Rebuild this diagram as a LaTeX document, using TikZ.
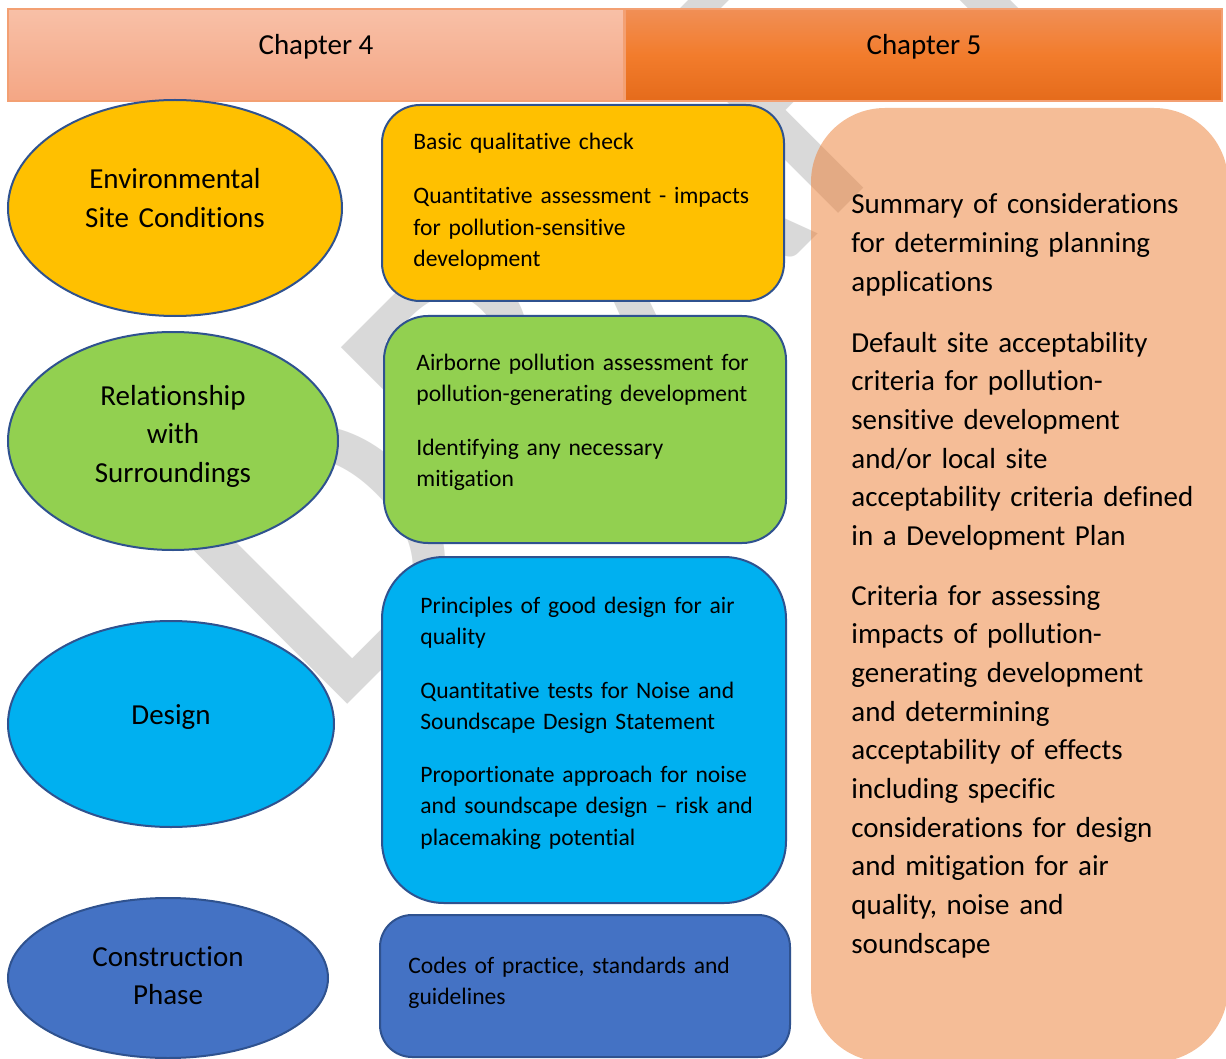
\documentclass[tikz,border=0pt]{standalone}
\usepackage{fontspec}
\setmainfont{Carlito}[Ligatures={TeX,NoCommon}]
\usetikzlibrary{shapes.geometric}
\definecolor{outl}{RGB}{47,82,143}
\definecolor{amber}{RGB}{255,192,0}
\definecolor{leaf}{RGB}{146,208,80}
\definecolor{sky}{RGB}{0,176,240}
\definecolor{steel}{RGB}{68,114,196}
\definecolor{accent}{RGB}{237,125,49}
\definecolor{wmark}{RGB}{217,217,217}
\definecolor{chfourtop}{RGB}{248,192,167}
\definecolor{chfourbot}{RGB}{244,166,132}
\definecolor{chfivetop}{RGB}{241,143,86}
\definecolor{chfivemid}{RGB}{242,124,44}
\definecolor{chfivebot}{RGB}{229,107,27}
\definecolor{chedge}{RGB}{243,160,115}
\tikzset{
  topic/.style={ellipse, draw=outl, line width=1pt, inner sep=0pt},
  panel/.style={rectangle, draw=outl, line width=1pt, inner sep=0pt},
  head/.style={rectangle, draw=chedge, line width=0.6pt, inner sep=0pt, minimum height=46pt},
  bodytxt/.style={font=\fontsize{11.8pt}{15.75pt}\selectfont, anchor=base west, inner sep=0pt, text width=200pt, align=left},
  bigtxt/.style={font=\fontsize{14.5pt}{19.35pt}\selectfont, inner sep=0pt},
  sidetxt/.style={bigtxt, anchor=base west, text width=190pt, align=left},
  topictxt/.style={bigtxt, anchor=base, text width=160pt, align=center},
}
\begin{document}
\begin{tikzpicture}[x=0.5pt,y=-0.5pt]
\clip (0,0) rectangle (1226,1059);
\fill[white] (0,0) rectangle (1226,1059);

% watermark behind everything
\node[font=\fontsize{200pt}{200pt}\selectfont, text=wmark, rotate=45,
      anchor=base west, inner sep=0pt] (draftmark) at (328,724) {DRAFT};

% chapter 5 summary panel (half transparent)
\node[rectangle, rounded corners=37pt, fill=accent, fill opacity=0.5,
      minimum width=208.5pt, minimum height=477pt, inner sep=0pt] (summary) at (1019.5,585) {};

% chapter headers
\node[head, top color=chfourtop, bottom color=chfourbot, minimum width=308pt] (chfour) at (316,55) {};
\node[head, top color=chfivetop, bottom color=chfivebot, middle color=chfivemid, minimum width=298.5pt] (chfive) at (923.5,55) {};
\node[bigtxt, anchor=base] (chfourtxt) at (316,55) {Chapter 4};
\node[bigtxt, anchor=base] (chfivetxt) at (924,55) {Chapter 5};

% chapter 4 topics
\node[topic, fill=amber, minimum width=167pt, minimum height=108pt] (env) at (175,208) {};
\node[topic, fill=leaf, minimum width=165pt, minimum height=109pt] (rel) at (173,441) {};
\node[topic, fill=sky, minimum width=163pt, minimum height=103pt] (des) at (171,724) {};
\node[topic, fill=steel, minimum width=160pt, minimum height=80pt] (con) at (168,978) {};

\node[topictxt] (envtxt) at (175,189) {Environmental\\Site Conditions};
\node[topictxt] (reltxt) at (173,405) {Relationship\\with\\Surroundings};
\node[topictxt] (destxt) at (171,724) {Design};
\node[topictxt] (contxt) at (168,966) {Construction\\Phase};

% chapter 4 detail panels
\node[panel, fill=amber, rounded corners=19pt, minimum width=201pt, minimum height=98pt] (envbox) at (583,203) {};
\node[panel, fill=leaf, rounded corners=22pt, minimum width=201pt, minimum height=113.5pt] (relbox) at (585,429.5) {};
\node[panel, fill=sky, rounded corners=31pt, minimum width=202pt, minimum height=173pt] (desbox) at (584,730) {};
\node[panel, fill=steel, rounded corners=16pt, minimum width=205pt, minimum height=71pt] (conbox) at (585,986) {};

\node[bodytxt] (enva) at (413,150) {Basic qualitative check};
\node[bodytxt] (envb) at (413,204) {Quantitative assessment - impacts\\for pollution-sensitive\\development};

\node[bodytxt] (rela) at (416,370) {Airborne pollution assessment for\\pollution-generating development};
\node[bodytxt] (relb) at (416,455) {Identifying any necessary\\mitigation};

\node[bodytxt] (desa) at (420,613) {Principles of good design for air\\quality};
\node[bodytxt] (desb) at (420,698) {Quantitative tests for Noise and\\Soundscape Design Statement};
\node[bodytxt] (desc) at (420,782) {Proportionate approach for noise\\and soundscape design – risk and\\placemaking potential};

\node[bodytxt] (cona) at (408,973) {Codes of practice, standards and\\guidelines};

% chapter 5 summary text
\node[sidetxt] (suma) at (851,214) {Summary of considerations\\for determining planning\\applications};
\node[sidetxt] (sumb) at (851,352) {Default site acceptability\\criteria for pollution-\\sensitive development\\and/or local site\\acceptability criteria defined\\in a Development Plan};
\node[sidetxt] (sumc) at (851,605) {Criteria for assessing\\impacts of pollution-\\generating development\\and determining\\acceptability of effects\\including specific\\considerations for design\\and mitigation for air\\quality, noise and\\soundscape};
\end{tikzpicture}
\end{document}
